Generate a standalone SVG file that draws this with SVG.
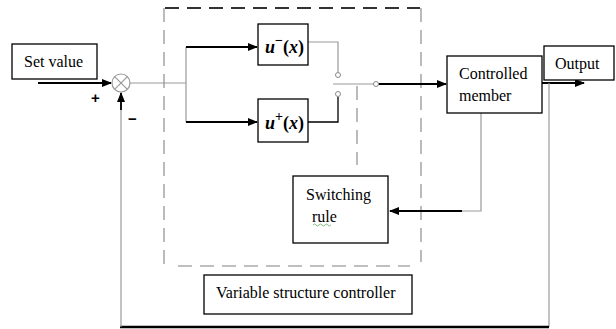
<svg xmlns="http://www.w3.org/2000/svg" width="616" height="329" viewBox="0 0 616 329">
<defs>
<marker id="ah" markerWidth="10" markerHeight="8" refX="9" refY="4" orient="auto" markerUnits="userSpaceOnUse">
<path d="M0,0 L10,4 L0,8 Z" fill="#000"/>
</marker>
<style>
.box{fill:#fff;stroke:#000;stroke-width:1.3}
.t{font-family:"Liberation Serif","Times New Roman",serif;font-size:16px;fill:#000}
.s{font-family:"Liberation Sans",Arial,sans-serif;font-size:15px;font-weight:bold;fill:#000}
.m{font-family:"Liberation Serif","Times New Roman",serif;font-size:18px;font-style:italic;font-weight:bold;fill:#000}
.g{stroke:#999;stroke-width:1.2;fill:none}
.k{stroke:#000;stroke-width:1.8;fill:none}
.dash{stroke:#aaa;stroke-width:1.6;fill:none;stroke-dasharray:14,8}
</style>
</defs>
<rect width="616" height="329" fill="#fff"/>
<g id="controller-frame">
<line x1="165" y1="8" x2="420" y2="8" stroke="#333" stroke-width="2" stroke-dasharray="14,8"/>
<line x1="164" y1="8" x2="164" y2="265" class="dash"/>
<line x1="421" y1="8" x2="421" y2="262" class="dash"/>
<line x1="178" y1="266" x2="410" y2="266" class="dash"/>
<line x1="357" y1="86" x2="357" y2="165" class="dash"/>
</g>
<g id="connectors">
<line x1="38" y1="83" x2="111" y2="83" class="k" marker-end="url(#ah)"/>
<polyline points="130,83 186,83" class="g"/>
<polyline points="186,83 186,47" class="g"/>
<polyline points="186,83 186,122" class="g"/>
<line x1="186" y1="47" x2="257" y2="47" class="k" marker-end="url(#ah)"/>
<line x1="186" y1="122" x2="257" y2="122" class="k" marker-end="url(#ah)"/>
<polyline points="308,42 338,42 338,72" class="g"/>
<polyline points="308,122 338,122 338,97" class="k" style="stroke-width:1.3"/>
<line x1="333" y1="84" x2="374" y2="84" class="g"/>
<line x1="378" y1="84" x2="446" y2="84" class="k" marker-end="url(#ah)"/>
<line x1="542" y1="83" x2="584" y2="83" class="k" marker-end="url(#ah)"/>
<polyline points="481,113 481,211 462,211" class="g"/>
<line x1="462" y1="211" x2="390" y2="211" class="k" marker-end="url(#ah)"/>
<polyline points="549,83 549,327" class="g"/>
<line x1="549" y1="327" x2="120" y2="327" stroke="#000" stroke-width="2.5"/>
<line x1="121" y1="327" x2="121" y2="93" class="g"/>
<line x1="121" y1="110" x2="121" y2="93" class="k" marker-end="url(#ah)"/>
<circle cx="338" cy="75" r="2.5" fill="#fff" stroke="#888" stroke-width="1"/>
<circle cx="338" cy="94" r="2.5" fill="#fff" stroke="#888" stroke-width="1"/>
<circle cx="376" cy="84" r="2.5" fill="#fff" stroke="#888" stroke-width="1"/>
</g>
<g id="sum">
<circle cx="121" cy="83" r="9" fill="#fff" stroke="#999" stroke-width="1.2"/>
<line x1="114.6" y1="76.6" x2="127.4" y2="89.4" stroke="#999" stroke-width="1.2"/>
<line x1="127.4" y1="76.6" x2="114.6" y2="89.4" stroke="#999" stroke-width="1.2"/>
<text x="91" y="103" class="s">+</text>
<text x="128" y="124" class="s">−</text>
</g>
<g id="set-value">
<rect x="12" y="44" width="85" height="35" class="box"/>
<text x="24" y="67" class="t">Set value</text>
</g>
<g id="u-minus">
<rect x="258" y="24" width="50" height="41" class="box"/>
<text x="265" y="53" class="m">u<tspan dy="-8" font-size="14" font-style="normal">−</tspan><tspan dy="8" font-style="normal">(</tspan>x<tspan font-style="normal">)</tspan></text>
</g>
<g id="u-plus">
<rect x="258" y="99" width="50" height="43" class="box"/>
<text x="265" y="129" class="m">u<tspan dy="-8" font-size="14" font-style="normal">+</tspan><tspan dy="8" font-style="normal">(</tspan>x<tspan font-style="normal">)</tspan></text>
</g>
<g id="controlled-member">
<rect x="447" y="56" width="95" height="57" class="box"/>
<text x="459" y="79" class="t">Controlled</text>
<text x="459" y="101" class="t">member</text>
</g>
<g id="output">
<rect x="544" y="46" width="70" height="34" class="box"/>
<text x="555" y="69" class="t">Output</text>
</g>
<g id="switching-rule">
<rect x="293" y="176" width="95" height="67" class="box"/>
<text x="306" y="200" class="t">Switching</text>
<text x="312" y="222" class="t">rule</text>
<path d="M313,225 q1.5,-2 3,0 t3,0 t3,0 t3,0 t3,0 t3,0" stroke="#6a6" stroke-width="0.8" fill="none"/>
</g>
<g id="variable-structure-controller">
<rect x="204" y="275" width="208" height="39" class="box"/>
<text x="216" y="298" class="t">Variable structure controller</text>
</g>
</svg>
